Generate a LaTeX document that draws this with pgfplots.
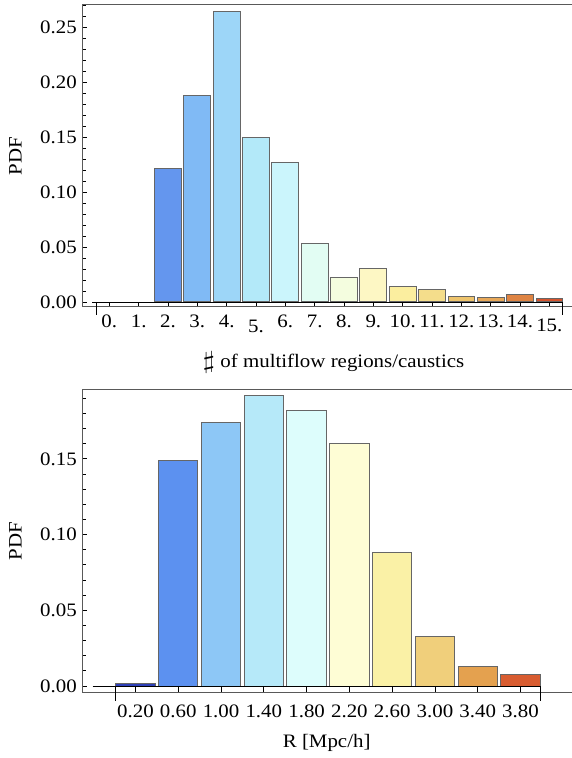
\documentclass[border=0pt]{standalone}
\usepackage{pgfplots}
\pgfplotsset{compat=1.18}
\usepackage{graphicx}
\usepackage{fontspec}
\setmainfont[FakeStretch=1.1]{Liberation Serif}

\definecolor{t2}{HTML}{6496EE}
\definecolor{t3}{HTML}{80BAF5}
\definecolor{t4}{HTML}{9DD6F8}
\definecolor{t5}{HTML}{B3E9F9}
\definecolor{t6}{HTML}{CBF5FC}
\definecolor{t7}{HTML}{E2FDF3}
\definecolor{t8}{HTML}{F4FDDF}
\definecolor{t9}{HTML}{FDF7C4}
\definecolor{t10}{HTML}{FBEE9F}
\definecolor{t11}{HTML}{F4DD8B}
\definecolor{t12}{HTML}{EEC46C}
\definecolor{t13}{HTML}{E8A858}
\definecolor{t14}{HTML}{DF8443}
\definecolor{t15}{HTML}{D6532D}

\definecolor{b0}{HTML}{2E40B8}
\definecolor{b1}{HTML}{5C91F0}
\definecolor{b2}{HTML}{8DC7F6}
\definecolor{b3}{HTML}{B6E9F9}
\definecolor{b4}{HTML}{DDFDFC}
\definecolor{b5}{HTML}{FEFDD5}
\definecolor{b6}{HTML}{FAF1A6}
\definecolor{b7}{HTML}{F0CF7B}
\definecolor{b8}{HTML}{E4A14F}
\definecolor{b9}{HTML}{D85C30}

\newcommand{\lowlab}[2]{\vphantom{0}\smash{\raisebox{-#1}{#2}}}

\pgfplotsset{
  mybar/.style={ybar, bar shift=0pt, draw=black!60, line width=1pt, fill=#1},
  zl/.style={black, line width=0.8pt},
  common/.style={
    scale only axis, width=491pt, clip=false, anchor=south west,
    axis line style={draw=black!65, line width=1pt},
    xtick pos=bottom, ytick pos=left, tick align=inside,
    tick style={black, line width=0.8pt},
    major tick length=4.5pt, minor tick length=2.8pt,
    tick label style={font=\fontsize{19}{22}\selectfont},
    label style={font=\fontsize{19}{22}\selectfont},
    yticklabel style={inner xsep=0pt, xshift=-6pt,
      /pgf/number format/.cd, fixed, fixed zerofill, precision=2, assume math mode=true},
    xticklabel style={inner ysep=0pt},
    ylabel style={anchor=base},
    xlabel style={anchor=base},
  },
}

\begin{document}
\begin{tikzpicture}
\useasboundingbox (0,0) rectangle (572pt,758pt);

% ---------- top chart ----------
\begin{axis}[common,
  at={(83pt,451pt)}, height=302pt,
  xmin=-0.897, xmax=15.84, ymin=-0.00455, ymax=0.27,
  ytick={0,0.05,0.10,0.15,0.20,0.25},
  minor ytick={0.01,0.02,0.03,0.04,0.06,0.07,0.08,0.09,0.11,0.12,0.13,0.14,0.16,0.17,0.18,0.19,0.21,0.22,0.23,0.24,0.26,0.27},
  xtick={0,1,2,3,4,5,6,7,8,9,10,11,12,13,14,15},
  xticklabels={0.,1.,2.,3.,4.,\lowlab{5pt}{5.},6.,7.,8.,9.,10.,11.,12.,13.,14.,\lowlab{3.5pt}{15.}},
  xtick style={/pgfplots/major tick length=5pt},
  xticklabel style={yshift=-8pt},
  bar width=0.91,
  xlabel={\raisebox{-1pt}{\scalebox{1.9}[1.4]{$\sharp$}} of multiflow regions/caustics},
  xlabel style={at={(axis description cs:0.5102,-0.2020)}},
  ylabel={PDF},
  ylabel style={at={(axis description cs:-0.1250,0.5)}},
]
\addplot[mybar=t2]  coordinates {(2,0.1218)};
\addplot[mybar=t3]  coordinates {(3,0.1876)};
\addplot[mybar=t4]  coordinates {(4,0.2645)};
\addplot[mybar=t5]  coordinates {(5,0.1494)};
\addplot[mybar=t6]  coordinates {(6,0.1264)};
\addplot[mybar=t7]  coordinates {(7,0.0536)};
\addplot[mybar=t8]  coordinates {(8,0.0221)};
\addplot[mybar=t9]  coordinates {(9,0.0306)};
\addplot[mybar=t10] coordinates {(10,0.0143)};
\addplot[mybar=t11] coordinates {(11,0.0112)};
\addplot[mybar=t12] coordinates {(12,0.0052)};
\addplot[mybar=t13] coordinates {(13,0.0039)};
\addplot[mybar=t14] coordinates {(14,0.0067)};
\addplot[mybar=t15] coordinates {(15,0.0033)};
\addplot[zl] coordinates {(-0.59,0) (15.47,0)};
\addplot[zl] coordinates {(-0.455,0) (-0.455,-0.0118)};
\addplot[zl] coordinates {(15.455,0) (15.455,-0.0118)};
\end{axis}

% ---------- bottom chart ----------
\begin{axis}[common,
  at={(83pt,65.7pt)}, height=302.8pt,
  xmin=-1.227, xmax=10.25, ymin=-0.00416, ymax=0.1958,
  ytick={0,0.05,0.10,0.15},
  minor ytick={0.01,0.02,0.03,0.04,0.06,0.07,0.08,0.09,0.11,0.12,0.13,0.14,0.16,0.17,0.18,0.19},
  xtick={0,1,2,3,4,5,6,7,8,9},
  xticklabels={0.20,0.60,1.00,1.40,1.80,2.20,2.60,3.00,3.40,3.80},
  xtick style={/pgfplots/major tick length=6.3pt},
  xticklabel style={yshift=-12.5pt},
  bar width=0.92,
  xlabel={R [Mpc/h]},
  xlabel style={at={(axis description cs:0.4963,-0.1839)}},
  ylabel={PDF},
  ylabel style={at={(axis description cs:-0.1250,0.5)}},
]
\addplot[mybar=b0] coordinates {(0,0.0015)};
\addplot[mybar=b1] coordinates {(1,0.1491)};
\addplot[mybar=b2] coordinates {(2,0.1742)};
\addplot[mybar=b3] coordinates {(3,0.1918)};
\addplot[mybar=b4] coordinates {(4,0.1819)};
\addplot[mybar=b5] coordinates {(5,0.1603)};
\addplot[mybar=b6] coordinates {(6,0.0883)};
\addplot[mybar=b7] coordinates {(7,0.0328)};
\addplot[mybar=b8] coordinates {(8,0.0130)};
\addplot[mybar=b9] coordinates {(9,0.0077)};
\addplot[zl] coordinates {(-1.0,0) (9.46,0)};
\addplot[zl] coordinates {(-0.46,0) (-0.46,-0.0097)};
\addplot[zl] coordinates {(9.46,0) (9.46,-0.0097)};
\end{axis}
\end{tikzpicture}
\end{document}
